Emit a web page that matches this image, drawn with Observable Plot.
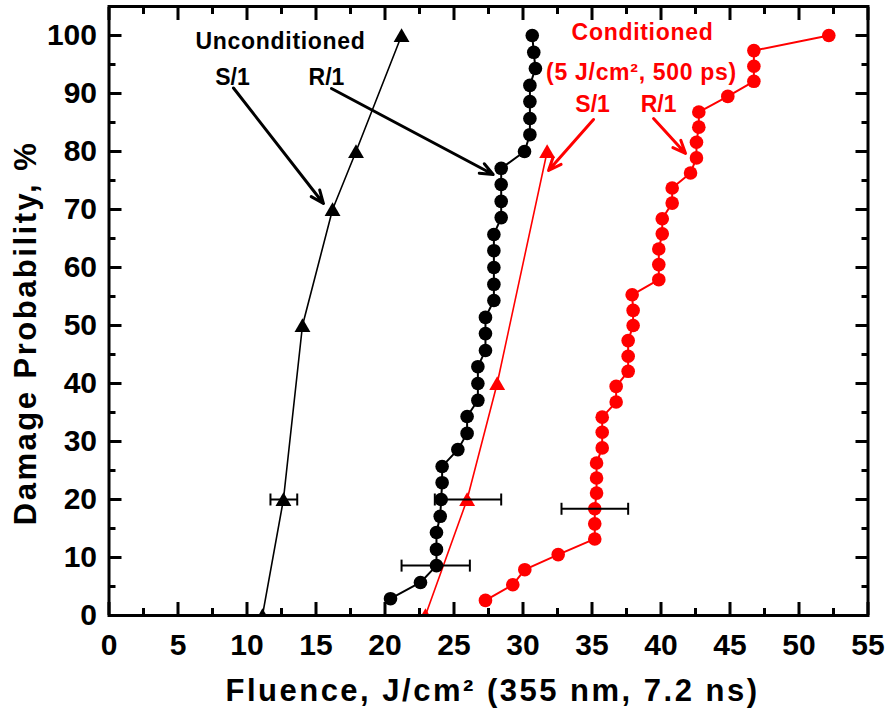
<!DOCTYPE html>
<html>
<head>
<meta charset="utf-8">
<script src="https://cdn.jsdelivr.net/npm/d3@7"></script>
<script src="https://cdn.jsdelivr.net/npm/@observablehq/plot@0.6"></script>
<style>
  body { margin: 0; background: #fff; }
</style>
</head>
<body>
<div id="chart"></div>
<script>
// ---------- data ----------
// Unconditioned, S/1 (black triangles)
const uncS1Fluence = [11.12, 12.64, 14.02, 16.2, 17.9, 21.2];
const uncS1Prob    = [0, 20, 50, 70, 80, 100];
// Conditioned, S/1 (red triangles)
const conS1Fluence = [22.93, 25.95, 28.13, 31.75];
const conS1Prob    = [0, 20, 40, 80];
// Unconditioned, R/1 (black circles)
const uncR1Fluence = [20.4, 22.57, 23.73, 23.73, 23.73, 24.0, 24.07, 24.14, 24.14, 25.28,
                      25.95, 25.95, 26.73, 26.73, 26.73, 27.28, 27.28, 27.28, 27.89, 27.89,
                      27.89, 27.89, 27.89, 28.42, 28.42, 28.42, 28.42, 30.11, 30.5, 30.5,
                      30.5, 30.5, 30.9, 30.78, 30.67];
const uncR1Prob    = [2.9, 5.7, 8.6, 11.4, 14.3, 17.1, 20.0, 22.9, 25.7, 28.6,
                      31.4, 34.3, 37.1, 40.0, 42.9, 45.7, 48.6, 51.4, 54.3, 57.1,
                      60.0, 62.9, 65.7, 68.6, 71.4, 74.3, 77.1, 80.0, 82.9, 85.7,
                      88.6, 91.4, 94.3, 97.1, 100];
// Conditioned, R/1 (red circles)
const conR1Fluence = [27.28, 29.26, 30.13, 32.55, 35.2, 35.2, 35.2, 35.33, 35.33, 35.33,
                      35.74, 35.74, 35.74, 36.75, 36.75, 37.62, 37.62, 37.62, 37.98, 37.98,
                      37.91, 39.84, 39.84, 39.84, 40.09, 40.09, 40.81, 40.81, 42.14, 42.57,
                      42.57, 42.74, 42.74, 44.84, 46.73, 46.73, 46.73, 52.16];
const conR1Prob    = [2.6, 5.3, 7.9, 10.5, 13.2, 15.8, 18.4, 21.1, 23.7, 26.3,
                      28.9, 31.6, 34.2, 36.8, 39.5, 42.1, 44.7, 47.4, 50.0, 52.6,
                      55.3, 57.9, 60.5, 63.2, 65.8, 68.4, 71.1, 73.7, 76.3, 78.9,
                      81.6, 84.2, 86.8, 89.5, 92.1, 94.7, 97.4, 100];
// error bars (horizontal, black)
const errProb = [20, 20, 8.6, 18.4];
const errLow  = [11.7, 23.61, 21.2, 32.79];
const errHigh = [13.64, 28.42, 26.15, 37.62];

// ticks
const xTicks = [0, 5, 10, 15, 20, 25, 30, 35, 40, 45, 50, 55];
const xMinor = [2.5, 7.5, 12.5, 17.5, 22.5, 27.5, 32.5, 37.5, 42.5, 47.5, 52.5];
const yTicks = [0, 10, 20, 30, 40, 50, 60, 70, 80, 90, 100];
const yMinor = [5, 15, 25, 35, 45, 55, 65, 75, 85, 95];

// texts
const xTitle = "Fluence, J/cm\u00B2 (355 nm, 7.2 ns)";
const yTitle = "Damage Probability, %";
const blackLabels = ["Unconditioned", "S/1", "R/1"];
const blackLabelX = [12.43, 8.95, 15.76];
const blackLabelY = [98.97, 92.76, 92.76];
const redLabels = ["Conditioned", "(5 J/cm\u00B2, 500 ps)", "S/1", "R/1"];
const redLabelX = [38.66, 38.59, 35.04, 39.82];
const redLabelY = [100.5, 93.62, 88.1, 88.1];
// annotation arrows (start -> tip)
const blackArrowX1 = [9.02, 16.12], blackArrowY1 = [90.95, 90.86];
const blackArrowX2 = [15.54, 27.84], blackArrowY2 = [71.03, 76.03];
const redArrowX1 = [35.11, 39.46], redArrowY1 = [85.52, 85.69];
const redArrowX2 = [31.85, 41.78], redArrowY2 = [76.72, 79.66];

// ---------- tables ----------
const pts = (xs, ys) => xs.map((x, i) => ({x, y: ys[i]}));
const uncS1 = pts(uncS1Fluence, uncS1Prob);
const conS1 = pts(conS1Fluence, conS1Prob);
const uncR1 = pts(uncR1Fluence, uncR1Prob);
const conR1 = pts(conR1Fluence, conR1Prob);
const errs = errProb.map((y, i) => ({y, lo: errLow[i], hi: errHigh[i]}));
const blackLab = blackLabels.map((t, i) => ({t, x: blackLabelX[i], y: blackLabelY[i]}));
const redLab = redLabels.map((t, i) => ({t, x: redLabelX[i], y: redLabelY[i]}));
const blackArr = blackArrowX1.map((x1, i) => ({x1, y1: blackArrowY1[i], x2: blackArrowX2[i], y2: blackArrowY2[i]}));
const redArr = redArrowX1.map((x1, i) => ({x1, y1: redArrowY1[i], x2: redArrowX2[i], y2: redArrowY2[i]}));

const RED = "#ff0000";
const capSymbol = {
  draw(ctx, size) { const h = Math.sqrt(size / Math.PI); ctx.moveTo(0, -h); ctx.lineTo(0, h); }
};

const tickAxis = (fn, ticks, anchor, size) =>
  fn(ticks, {anchor, tickSize: -size, fill: "none", stroke: "black", strokeWidth: 3, label: null, tickFormat: () => ""});

const chart = Plot.plot({
  width: 886,
  height: 715,
  marginLeft: 108.5,
  marginRight: 18.5,
  marginTop: 6,
  marginBottom: 100,
  x: {domain: [0, 55]},
  y: {domain: [0, 105]},
  style: {fontFamily: "'Liberation Sans', Arial, sans-serif", background: "white", color: "black"},
  marks: [
    // Unconditioned S/1
    Plot.line(uncS1, {x: "x", y: "y", stroke: "black", strokeWidth: 1.6, clip: true}),
    // Unconditioned R/1
    Plot.line(uncR1, {x: "x", y: "y", stroke: "black", strokeWidth: 2, clip: true}),
    // Conditioned S/1
    Plot.line(conS1, {x: "x", y: "y", stroke: RED, strokeWidth: 1.6, clip: true}),
    // Conditioned R/1
    Plot.line(conR1, {x: "x", y: "y", stroke: RED, strokeWidth: 2, clip: true}),
    Plot.dot(uncS1, {x: "x", y: "y", symbol: "triangle", r: 5.9, fill: "black", stroke: "none", dy: 2, clip: true}),
    Plot.dot(uncR1, {x: "x", y: "y", r: 6.8, fill: "black", stroke: "none", clip: true}),
    Plot.dot(conS1, {x: "x", y: "y", symbol: "triangle", r: 5.9, fill: RED, stroke: "none", dy: 2, clip: true}),
    Plot.dot(conR1, {x: "x", y: "y", r: 6.8, fill: RED, stroke: "none", clip: true}),
    // error bars
    Plot.link(errs, {x1: "lo", x2: "hi", y1: "y", y2: "y", stroke: "black", strokeWidth: 2}),
    Plot.dot(errs, {x: "lo", y: "y", symbol: capSymbol, r: 6, fill: "none", stroke: "black", strokeWidth: 2}),
    Plot.dot(errs, {x: "hi", y: "y", symbol: capSymbol, r: 6, fill: "none", stroke: "black", strokeWidth: 2}),
    // annotations
    Plot.arrow(blackArr, {x1: "x1", y1: "y1", x2: "x2", y2: "y2", stroke: "black", strokeWidth: 3, headLength: 7, headAngle: 45}),
    Plot.arrow(redArr, {x1: "x1", y1: "y1", x2: "x2", y2: "y2", stroke: RED, strokeWidth: 3, headLength: 7, headAngle: 45}),
    Plot.text(blackLab, {x: "x", y: "y", text: "t", fill: "black", fontSize: 23, fontWeight: "bold"}),
    Plot.text(redLab, {x: "x", y: "y", text: "t", fill: RED, fontSize: 23, fontWeight: "bold"}),
    // frame and axes
    Plot.frame({stroke: "black", strokeWidth: 3}),
    tickAxis(Plot.axisX, xTicks, "bottom", 13),
    tickAxis(Plot.axisX, xMinor, "bottom", 7),
    tickAxis(Plot.axisX, xTicks, "top", 13),
    tickAxis(Plot.axisX, xMinor, "top", 7),
    tickAxis(Plot.axisY, yTicks, "left", 13),
    tickAxis(Plot.axisY, yMinor, "left", 7),
    tickAxis(Plot.axisY, yTicks, "right", 13),
    tickAxis(Plot.axisY, yMinor, "right", 7),
    Plot.axisX(xTicks, {anchor: "bottom", tickSize: 0, tickPadding: 18, fontSize: 30, fontWeight: "bold", label: null}),
    Plot.axisY(yTicks, {anchor: "left", tickSize: 0, tickPadding: 12, fontSize: 30, fontWeight: "bold", label: null}),
    Plot.text([xTitle], {text: d => d, frameAnchor: "bottom", textAnchor: "middle", dx: 4, dy: 76, lineAnchor: "middle", fontSize: 31, fontWeight: "bold"}),
    Plot.text([yTitle], {text: d => d, frameAnchor: "left", textAnchor: "middle", lineAnchor: "middle", rotate: -90, dx: -83, dy: 22, fontSize: 31, fontWeight: "bold"})
  ]
});

document.getElementById("chart").appendChild(chart);

// letter-spacing tweaks to match the wide original lettering
d3.select(chart).selectAll("text").each(function () {
  const t = this.textContent;
  if (t === xTitle || t === yTitle) this.style.letterSpacing = "2.5px";
  else if (t === "Unconditioned" || t === "Conditioned" || t === "(5 J/cm\u00B2, 500 ps)") this.style.letterSpacing = "0.7px";
});
</script>
</body>
</html>
